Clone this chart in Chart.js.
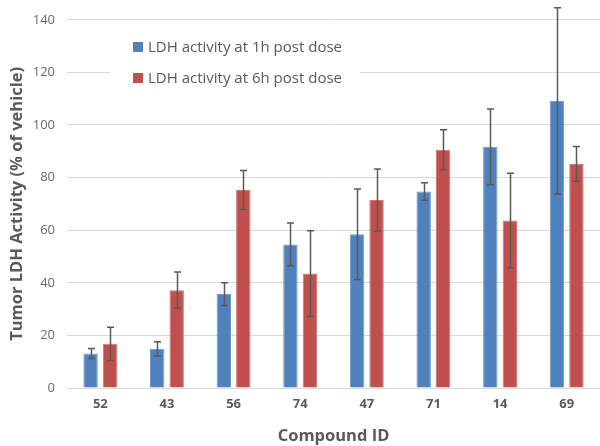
<!DOCTYPE html>
<html>
<head>
<meta charset="utf-8">
<script src="https://cdn.jsdelivr.net/npm/chart.js@4.4.1/dist/chart.umd.min.js"></script>
<style>
  html, body { margin: 0; padding: 0; background: #fff; }
  #wrap { width: 600px; height: 446px; position: relative; }
</style>
</head>
<body>
<div id="wrap"><canvas id="ldhChart"></canvas></div>
<script>
// ========================================
// Data
// ========================================
const compounds = ['52', '43', '56', '74', '47', '71', '14', '69'];
const ldh1h = [13.1, 14.9, 35.7, 54.6, 58.5, 74.7, 91.7, 109.2];
const err1h = [1.9, 2.7, 4.3, 8.1, 17.2, 3.3, 14.4, 35.4];
const ldh6h = [16.8, 37.2, 75.3, 43.5, 71.5, 90.6, 63.7, 85.2];
const err6h = [6.3, 6.9, 7.4, 16.3, 11.8, 7.6, 18.0, 6.6];
const yTicks = [0, 20, 40, 60, 80, 100, 120, 140];

const FONT = "'Open Sans', 'DejaVu Sans', sans-serif";

// ========================================
// Error bars drawn from the scales
// ========================================
const errorBars = {
    id: 'errorBars',
    afterDatasetsDraw(chart) {
        const ctx = chart.ctx;
        const y = chart.scales.y;
        ctx.save();
        ctx.strokeStyle = '#595959';
        ctx.lineWidth = 1.5;
        chart.data.datasets.forEach((ds, i) => {
            const meta = chart.getDatasetMeta(i);
            meta.data.forEach((bar, j) => {
                const v = ds.data[j], e = ds.errors[j];
                const top = y.getPixelForValue(v + e);
                const bot = y.getPixelForValue(v - e);
                const x = Math.round(bar.x) + 0.5;
                ctx.beginPath();
                ctx.moveTo(x, top); ctx.lineTo(x, bot);
                ctx.moveTo(x - 3.5, top); ctx.lineTo(x + 3.5, top);
                ctx.moveTo(x - 3.5, bot); ctx.lineTo(x + 3.5, bot);
                ctx.stroke();
            });
        });
        ctx.restore();
    }
};

// ========================================
// Legend inside the plot area
// ========================================
const insideLegend = {
    id: 'insideLegend',
    afterDraw(chart) {
        const ctx = chart.ctx;
        ctx.save();
        ctx.fillStyle = '#fff';
        ctx.fillRect(110, 26, 250, 66);
        ctx.font = '15px ' + FONT;
        ctx.textBaseline = 'middle';
        chart.data.datasets.forEach((ds, i) => {
            const cy = 47 + i * 31;
            ctx.fillStyle = ds.backgroundColor;
            ctx.fillRect(133, cy - 5, 10, 10);
            ctx.fillStyle = '#595959';
            ctx.fillText(ds.label, 148, cy + 1);
        });
        ctx.restore();
    }
};

// ========================================
// Chart
// ========================================
new Chart(document.getElementById('ldhChart'), {
    type: 'bar',
    data: {
        labels: compounds,
        datasets: [
            {
                label: 'LDH activity at 1h post dose',
                data: ldh1h,
                errors: err1h,
                backgroundColor: '#4F81BD',
                borderColor: '#6f9ad0',
                borderWidth: 1
            },
            {
                label: 'LDH activity at 6h post dose',
                data: ldh6h,
                errors: err6h,
                backgroundColor: '#C0504D',
                borderColor: '#d47471',
                borderWidth: 1
            }
        ]
    },
    options: {
        responsive: true,
        maintainAspectRatio: false,
        animation: false,
        layout: { padding: { top: 13, right: 0, left: 0, bottom: 0 } },
        datasets: { bar: { categoryPercentage: 0.585, barPercentage: 0.74 } },
        plugins: {
            legend: { display: false },
            tooltip: { enabled: false }
        },
        scales: {
            x: {
                grid: { display: false, drawTicks: false },
                border: { color: '#d9d9d9', width: 1 },
                ticks: {
                    color: '#595959',
                    padding: 8,
                    font: { family: FONT, size: 13, weight: 'bold' }
                },
                title: {
                    display: true,
                    text: 'Compound ID',
                    color: '#595959',
                    padding: { top: 15, bottom: 0 },
                    font: { family: FONT, size: 16.5, weight: 'bold' }
                },
                afterFit(scale) { scale.height = 58; }
            },
            y: {
                min: 0,
                max: 140,
                afterBuildTicks(scale) { scale.ticks = yTicks.map(v => ({ value: v })); },
                grid: { color: '#d9d9d9', lineWidth: 1, drawTicks: false },
                border: { display: false },
                ticks: {
                    color: '#6a6a6a',
                    padding: 12,
                    font: { family: FONT, size: 13 }
                },
                title: {
                    display: true,
                    text: 'Tumor LDH Activity (% of vehicle)',
                    color: '#595959',
                    padding: { top: 7, bottom: 0 },
                    font: { family: FONT, size: 16.5, weight: 'bold' }
                },
                afterFit(scale) { scale.width = 67; }
            }
        }
    },
    plugins: [errorBars, insideLegend]
});
</script>
</body>
</html>
